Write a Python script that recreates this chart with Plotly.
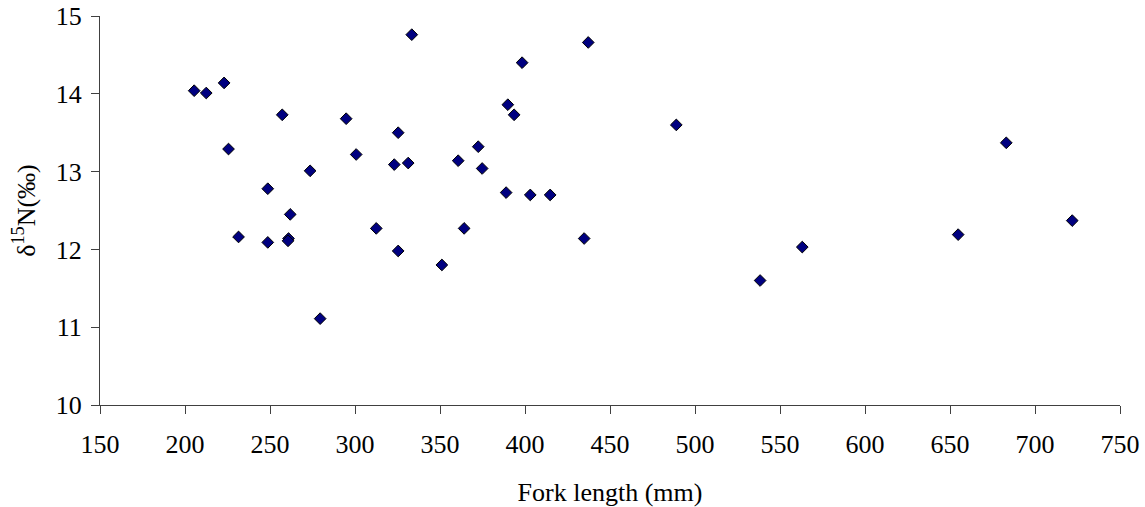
import plotly.graph_objects as go

fork_length = [205.4, 212.5, 223.0, 225.6, 231.5, 248.7, 248.7, 257.2, 261.9, 260.9, 260.6,
               273.6, 279.5, 294.8, 300.7, 312.5, 323.1, 325.4, 325.4, 333.4, 331.3, 351.1,
               360.7, 364.2, 372.5, 374.8, 388.9, 389.9, 393.6, 398.3, 403.1, 414.8, 434.8,
               437.2, 489.0, 538.3, 563.1, 654.8, 683.1, 721.9]
d15n = [14.04, 14.01, 14.14, 13.29, 12.16, 12.78, 12.09, 13.73, 12.45, 12.14, 12.11,
        13.01, 11.11, 13.68, 13.22, 12.27, 13.09, 13.50, 11.98, 14.76, 13.11, 11.80,
        13.14, 12.27, 13.32, 13.04, 12.73, 13.86, 13.73, 14.40, 12.70, 12.70, 12.14,
        14.66, 13.60, 11.60, 12.03, 12.19, 13.37, 12.37]

x_ticks = list(range(150, 751, 50))
y_ticks = [10, 11, 12, 13, 14, 15]

fig = go.Figure()
fig.add_trace(go.Scatter(
    x=fork_length, y=d15n, mode="markers",
    marker=dict(symbol="diamond", size=9, color="#000080",
                line=dict(color="black", width=1)),
    showlegend=False, hoverinfo="skip"))

font = dict(family="Liberation Serif, Times New Roman, serif", size=26, color="black")

fig.update_layout(
    width=1145, height=507,
    margin=dict(l=100, r=25, t=16, b=102),
    paper_bgcolor="white", plot_bgcolor="white",
    font=font,
    xaxis=dict(range=[150, 750], tickvals=x_ticks, showgrid=False, zeroline=False,
               showline=True, linecolor="#404040", linewidth=1,
               ticks="outside", ticklen=8, tickcolor="#404040",
               tickfont=font, ticklabelstandoff=8, automargin=False,
               title=dict(text="Fork length (mm)", font=font, standoff=26)),
    yaxis=dict(range=[10, 15], tickvals=y_ticks, showgrid=False, zeroline=False,
               showline=True, linecolor="#404040", linewidth=1,
               ticks="outside", ticklen=8, tickcolor="#404040",
               tickfont=font, ticklabelstandoff=4, automargin=False,
               title=dict(text="δ<sup>15</sup>N(‰)", font=font, standoff=12)),
)

fig.write_html("out.html")
